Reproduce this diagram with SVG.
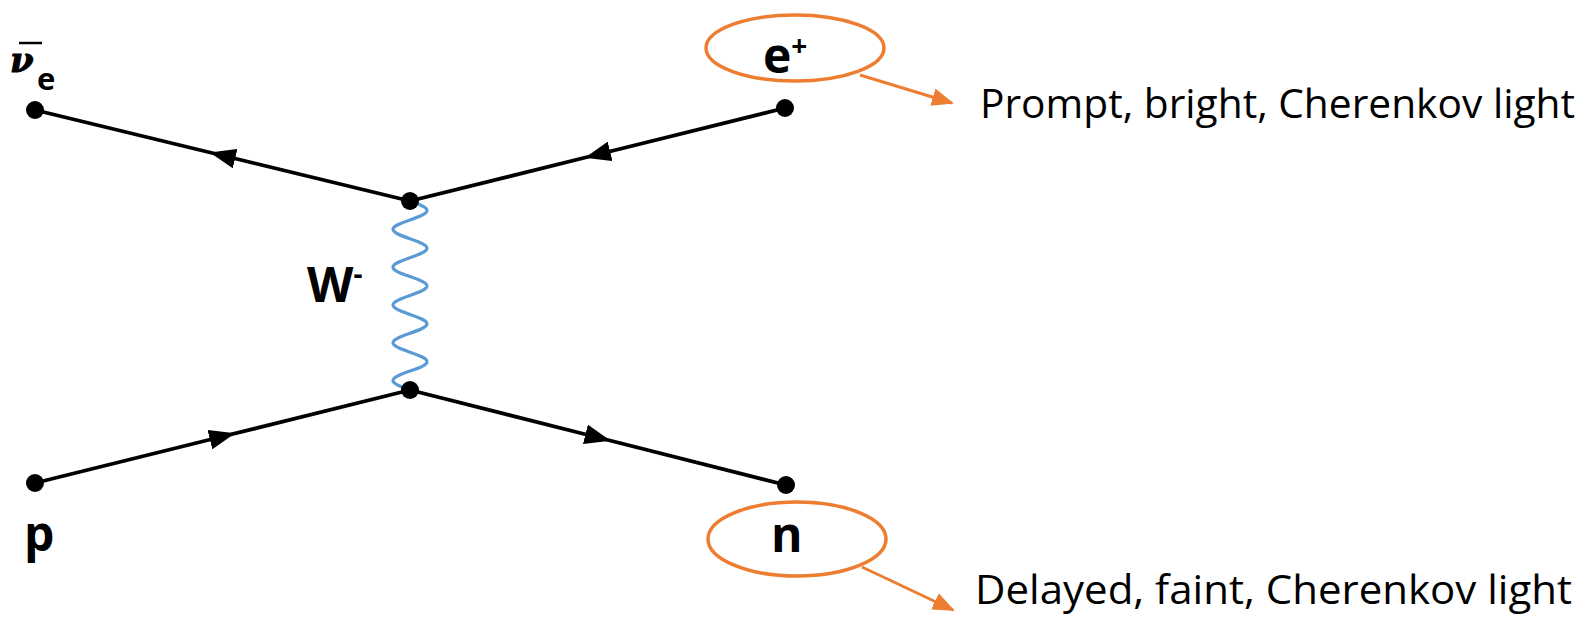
<svg xmlns="http://www.w3.org/2000/svg" width="1585" height="619" viewBox="0 0 1585 619">
<style>
.line{fill:none;stroke:#000;stroke-width:3.8}
.dot{fill:#000}
.lbl{font-family:"Open Sans","Noto Sans",sans-serif;font-weight:bold;fill:#000}
.note{font-family:"Open Sans","Noto Sans",sans-serif;font-size:41px;fill:#000}
.oval{fill:none;stroke:#ED7D31;stroke-width:3.5}
.oarrow{fill:none;stroke:#ED7D31;stroke-width:3}
.wave{fill:none;stroke:#5B9BD5;stroke-width:3.2}
</style>
<defs>
<marker id="arr" markerUnits="userSpaceOnUse" viewBox="0 0 26 20" refX="13" refY="10" markerWidth="26" markerHeight="20" orient="auto">
<path d="M0,0 L26,10 L0,20 z" fill="#000"/>
</marker>
<marker id="oarr" markerUnits="userSpaceOnUse" viewBox="0 0 22 18" refX="20" refY="9" markerWidth="22" markerHeight="18" orient="auto">
<path d="M0,0 L22,9 L0,18 z" fill="#ED7D31"/>
</marker>
</defs>
<g id="connectors">
<path class="line" d="M410,201 L222.5,155.5 L35,110" marker-mid="url(#arr)"/>
<path class="line" d="M785,108 L597.5,154.5 L410,201" marker-mid="url(#arr)"/>
<path class="line" d="M35,483 L222.5,436.5 L410,390" marker-mid="url(#arr)"/>
<path class="line" d="M410,390 L598,437.5 L786,485" marker-mid="url(#arr)"/>
<path id="W-boson" class="wave" d="M410,201 c 8.71,3.08 17,6.03 17,9.45 c 0,3.42 -8.29,6.37 -17,9.45 c -8.71,3.08 -17,6.03 -17,9.45 c 0,3.42 8.29,6.37 17,9.45 c 8.71,3.08 17,6.03 17,9.45 c 0,3.42 -8.29,6.37 -17,9.45 c -8.71,3.08 -17,6.03 -17,9.45 c 0,3.42 8.29,6.37 17,9.45 c 8.71,3.08 17,6.03 17,9.45 c 0,3.42 -8.29,6.37 -17,9.45 c -8.71,3.08 -17,6.03 -17,9.45 c 0,3.42 8.29,6.37 17,9.45 c 8.71,3.08 17,6.03 17,9.45 c 0,3.42 -8.29,6.37 -17,9.45 c -8.71,3.08 -17,6.03 -17,9.45 c 0,3.42 8.29,6.37 17,9.45 c 8.71,3.08 17,6.03 17,9.45 c 0,3.42 -8.29,6.37 -17,9.45 c -8.71,3.08 -17,6.03 -17,9.45 c 0,3.42 8.29,6.37 17,9.45"/>
<line class="oarrow" x1="860" y1="75" x2="952" y2="103" marker-end="url(#oarr)"/>
<line class="oarrow" x1="862" y1="567" x2="953" y2="610" marker-end="url(#oarr)"/>
</g>
<g id="vertex-top"><circle class="dot" cx="410" cy="201" r="9"/></g>
<g id="vertex-bottom"><circle class="dot" cx="410" cy="390" r="9"/></g>
<g id="antineutrino">
<circle class="dot" cx="35" cy="110" r="9"/>
<text x="10" y="72" font-family="'DejaVu Serif',serif" font-weight="bold" font-style="italic" font-size="34" fill="#000" stroke="#000" stroke-width="1">ν</text>
<line x1="19" y1="43" x2="42" y2="43" stroke="#000" stroke-width="2.5"/>
<text class="lbl" x="37" y="90" font-size="31">e</text>
</g>
<g id="positron">
<circle class="dot" cx="785" cy="108" r="9"/>
<ellipse class="oval" cx="795" cy="48" rx="89" ry="33"/>
<text class="lbl" x="763" y="73" font-size="48">e<tspan font-size="28" dy="-17">+</tspan></text>
</g>
<g id="proton">
<circle class="dot" cx="35" cy="483" r="9"/>
<text class="lbl" x="24" y="551" font-size="48">p</text>
</g>
<g id="neutron">
<circle class="dot" cx="786" cy="485" r="9"/>
<ellipse class="oval" cx="797" cy="539" rx="89" ry="37"/>
<text class="lbl" x="771" y="552" font-size="48">n</text>
</g>
<g id="W-label">
<text class="lbl" x="307" y="302" font-size="48">W<tspan font-size="28" dy="-18">-</tspan></text>
</g>
<g id="note-prompt">
<text class="note" x="980" y="118" textLength="595" lengthAdjust="spacingAndGlyphs">Prompt, bright, Cherenkov light</text>
</g>
<g id="note-delayed">
<text class="note" x="975" y="604" textLength="597" lengthAdjust="spacingAndGlyphs">Delayed, faint, Cherenkov light</text>
</g>
</svg>
